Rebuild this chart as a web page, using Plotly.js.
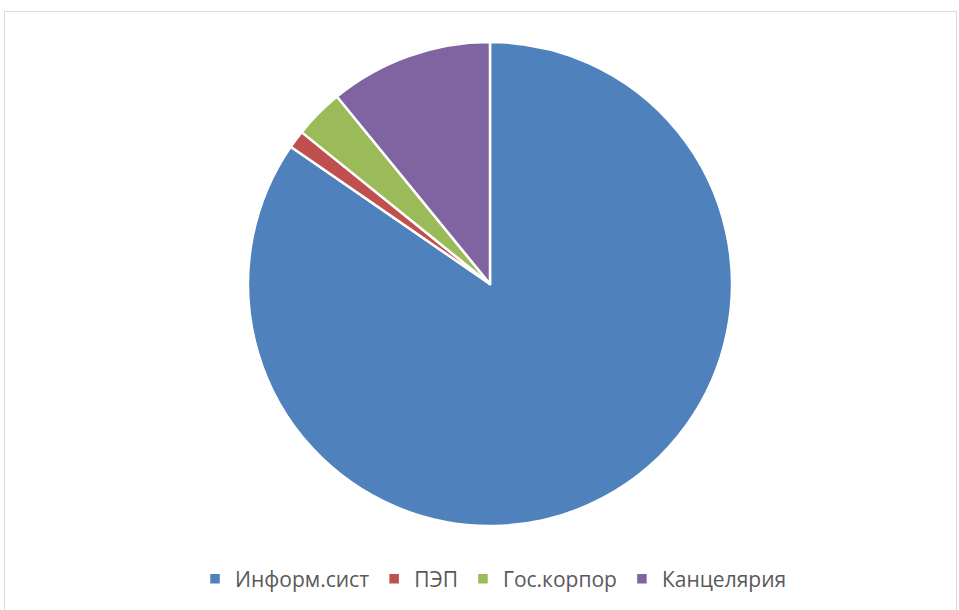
<!DOCTYPE html>
<html>
<head>
<meta charset="utf-8">
<script src="https://cdn.plot.ly/plotly-3.0.1.min.js"></script>
<style>
  html, body { margin: 0; padding: 0; background: #ffffff; }
  #wrap { position: relative; width: 959px; height: 610px; overflow: hidden; }
  #frame { position: absolute; left: 4px; top: 11px; width: 953px; height: 620px; border: 1px solid #d9d9d9; box-sizing: border-box; }
  #chart { position: absolute; left: 0; top: 0; width: 959px; height: 610px; }
</style>
</head>
<body>
<div id="wrap">
  <div id="frame"></div>
  <div id="chart"></div>
</div>
<script>
const categories = ["Информ.сист", "ПЭП", "Гос.корпор", "Канцелярия"];
const values = [84.6, 1.2, 3.3, 10.9];
const colors = ["#4F81BD", "#C0504D", "#9BBB59", "#8064A2"];

const data = [{
  type: "pie",
  labels: categories,
  values: values,
  sort: false,
  direction: "clockwise",
  rotation: 0,
  textinfo: "none",
  hoverinfo: "label+percent",
  marker: { colors: colors, line: { color: "#ffffff", width: 2.5 } }
}];

const layout = {
  width: 959,
  height: 610,
  margin: { l: 248, r: 227, t: 42, b: 84, autoexpand: false },
  paper_bgcolor: "rgba(0,0,0,0)",
  plot_bgcolor: "rgba(0,0,0,0)",
  showlegend: true,
  legend: {
    orientation: "h",
    x: -0.1095,
    xanchor: "left",
    y: -0.1095,
    yanchor: "middle",
    font: { family: "Open Sans, sans-serif", size: 21, color: "#595959" },
    itemwidth: 30,
    tracegroupgap: 0
  }
};

Plotly.newPlot("chart", data, layout, { displayModeBar: false, staticPlot: true });
</script>
</body>
</html>
